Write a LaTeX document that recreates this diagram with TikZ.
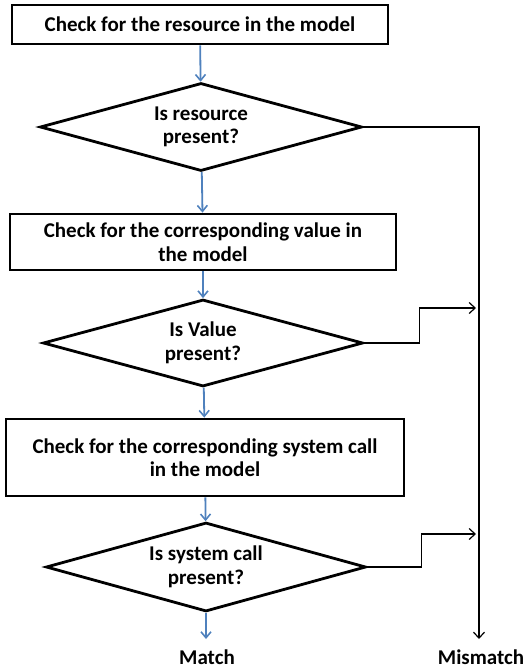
\documentclass[tikz,border=0pt]{standalone}
\usepackage{fontspec}
\setmainfont{Carlito}
\usepackage{xcolor}
\usetikzlibrary{shapes.geometric,arrows.meta}
\definecolor{flowblue}{RGB}{79,129,189}

\tikzset{
	procbox/.style={draw, line width=2.8pt, align=center, inner sep=0pt},
	decision/.style={diamond, draw, line width=2.8pt, align=center, inner sep=0pt, aspect=3.6},
	blueflow/.style={flowblue, line width=1.8pt, -{Straight Barb[length=6pt,width=10pt,line width=1.6pt]}},
	blackflow/.style={black, line width=1.2pt, -{Straight Barb[length=6pt,width=11pt,line width=1.2pt]}},
	label/.style={inner sep=0pt}
}

\begin{document}
\begin{tikzpicture}[x=1pt,y=-1pt,font=\fontsize{21}{23.5}\selectfont\bfseries]
		\useasboundingbox (0,0) rectangle (526,670);

		\node[procbox, minimum width=376pt, minimum height=39pt] (chkres) at (200,24.5) {Check for the resource in the model};
		\node[decision, minimum width=322pt, minimum height=88pt] (isres) at (201,127) {Is resource\\present?};
		\node[procbox, minimum width=386pt, minimum height=56pt] (chkval) at (203,242) {Check for the corresponding value in\\the model};
		\node[decision, minimum width=320pt, minimum height=87pt] (isval) at (203,343) {Is Value\\present?};
		\node[procbox, minimum width=398pt, minimum height=77pt] (chkcall) at (205,457.5) {Check for the corresponding system call\\in the model};
		\node[decision, minimum width=320pt, minimum height=89pt] (iscall) at (206,567) {Is system call\\present?};

		\node[label] (match) at (207,657) {Match};
		\node[label] (mismatch) at (481,657) {Mismatch};

		\coordinate (matchtip) at (206,639);
		\coordinate (mistip) at (479,639);
		\coordinate (valjoin) at (476,308);
		\coordinate (calljoin) at (476,534);

		\draw[blueflow] (chkres) -- (isres);
		\draw[blueflow] (isres) -- (chkval);
		\draw[blueflow] (chkval) -- (isval);
		\draw[blueflow] (isval) -- (chkcall);
		\draw[blueflow] (chkcall) -- (iscall);
		\draw[blueflow] (iscall.south) -- (matchtip);

		\draw[blackflow] (isres.east) -| (mistip);
		\draw[blackflow] (isval.east) -- ++(55,0) |- (valjoin);
		\draw[blackflow] (iscall.east) -- ++(54,0) |- (calljoin);
	\end{tikzpicture}
\end{document}
